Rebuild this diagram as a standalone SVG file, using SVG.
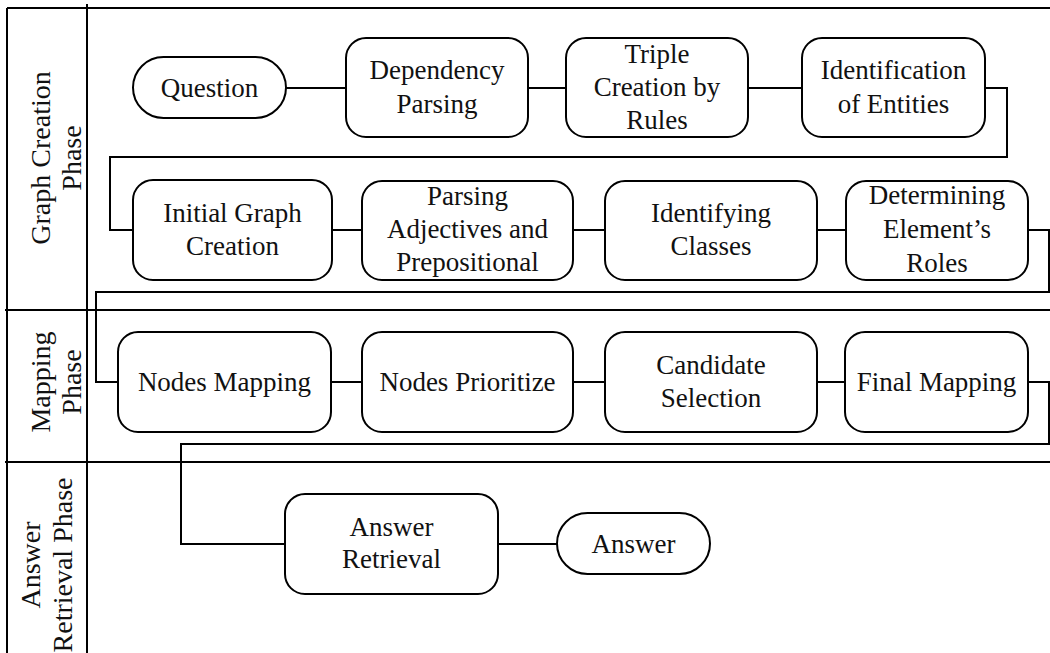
<svg xmlns="http://www.w3.org/2000/svg" width="1050" height="653" viewBox="0 0 1050 653">
<style>
.box{fill:#fff;stroke:#000;stroke-width:2}
.ln{fill:none;stroke:#000;stroke-width:2}
.t{font-size:27px;fill:#111;text-anchor:middle}
.lane{font-size:28px;fill:#111;text-anchor:middle}
</style>
<rect width="1050" height="653" fill="#fff"/>
<g id="lanes" class="ln">
<line x1="7" y1="8" x2="1050" y2="8"/>
<line x1="7" y1="8" x2="7" y2="653"/>
<line x1="87" y1="4" x2="87" y2="653"/>
<line x1="5" y1="310" x2="1050" y2="310"/>
<line x1="5" y1="462" x2="1050" y2="462"/>
</g>
<g font-family="Liberation Serif, Tinos, DejaVu Serif, serif">
<g id="lane-labels">
<text class="lane" transform="translate(50,158) rotate(-90)">Graph Creation</text>
<text class="lane" transform="translate(81,158) rotate(-90)">Phase</text>
<text class="lane" transform="translate(50,382) rotate(-90)">Mapping</text>
<text class="lane" transform="translate(81,382) rotate(-90)">Phase</text>
<text class="lane" transform="translate(40,565) rotate(-90)">Answer</text>
<text class="lane" transform="translate(72,565) rotate(-90)">Retrieval Phase</text>
</g>
<g id="connectors" class="ln">
<line x1="286" y1="88" x2="346" y2="88"/>
<line x1="528" y1="88" x2="566" y2="88"/>
<line x1="748" y1="88" x2="802" y2="88"/>
<polyline points="985,88 1007,88 1007,157 110,157 110,230 133,230"/>
<line x1="332" y1="230" x2="362" y2="230"/>
<line x1="573" y1="230" x2="605" y2="230"/>
<line x1="817" y1="230" x2="846" y2="230"/>
<polyline points="1028,230 1049,230 1049,292 96,292 96,382 118,382"/>
<line x1="331" y1="382" x2="362" y2="382"/>
<line x1="573" y1="382" x2="605" y2="382"/>
<line x1="817" y1="382" x2="845" y2="382"/>
<polyline points="1028,382 1049,382 1049,444 181,444 181,544 285,544"/>
<line x1="498" y1="544" x2="557" y2="544"/>
</g>
<g id="n-question"><rect class="box" x="133" y="57" width="153" height="61" rx="30.5"/><text class="t" x="209.5" y="97">Question</text></g>
<g id="n-dependency"><rect class="box" x="346" y="38" width="182" height="99" rx="20"/><text class="t" x="437" y="79">Dependency</text><text class="t" x="437" y="113">Parsing</text></g>
<g id="n-triple"><rect class="box" x="566" y="38" width="182" height="99" rx="20"/><text class="t" x="657" y="63">Triple</text><text class="t" x="657" y="96">Creation by</text><text class="t" x="657" y="129">Rules</text></g>
<g id="n-identification"><rect class="box" x="802" y="38" width="183" height="99" rx="20"/><text class="t" x="893.5" y="79">Identification</text><text class="t" x="893.5" y="113">of Entities</text></g>
<g id="n-initial"><rect class="box" x="133" y="180" width="199" height="100" rx="20"/><text class="t" x="232.5" y="222">Initial Graph</text><text class="t" x="232.5" y="255">Creation</text></g>
<g id="n-parsing"><rect class="box" x="362" y="181" width="211" height="99" rx="20"/><text class="t" x="467.5" y="205">Parsing</text><text class="t" x="467.5" y="238">Adjectives and</text><text class="t" x="467.5" y="271">Prepositional</text></g>
<g id="n-classes"><rect class="box" x="605" y="181" width="212" height="99" rx="20"/><text class="t" x="711" y="222">Identifying</text><text class="t" x="711" y="255">Classes</text></g>
<g id="n-roles"><rect class="box" x="846" y="181" width="182" height="99" rx="20"/><text class="t" x="937" y="204">Determining</text><text class="t" x="937" y="238">Element’s</text><text class="t" x="937" y="272">Roles</text></g>
<g id="n-nodesmapping"><rect class="box" x="118" y="332" width="213" height="100" rx="20"/><text class="t" x="224.5" y="391">Nodes Mapping</text></g>
<g id="n-prioritize"><rect class="box" x="362" y="332" width="211" height="100" rx="20"/><text class="t" x="467.5" y="391">Nodes Prioritize</text></g>
<g id="n-candidate"><rect class="box" x="605" y="332" width="212" height="100" rx="20"/><text class="t" x="711" y="374">Candidate</text><text class="t" x="711" y="407">Selection</text></g>
<g id="n-final"><rect class="box" x="845" y="332" width="183" height="100" rx="20"/><text class="t" x="936.5" y="391">Final Mapping</text></g>
<g id="n-retrieval"><rect class="box" x="285" y="494" width="213" height="100" rx="20"/><text class="t" x="391.5" y="536">Answer</text><text class="t" x="391.5" y="568">Retrieval</text></g>
<g id="n-answer"><rect class="box" x="557" y="513" width="153" height="61" rx="30.5"/><text class="t" x="633.5" y="553">Answer</text></g>
</g>
</svg>
